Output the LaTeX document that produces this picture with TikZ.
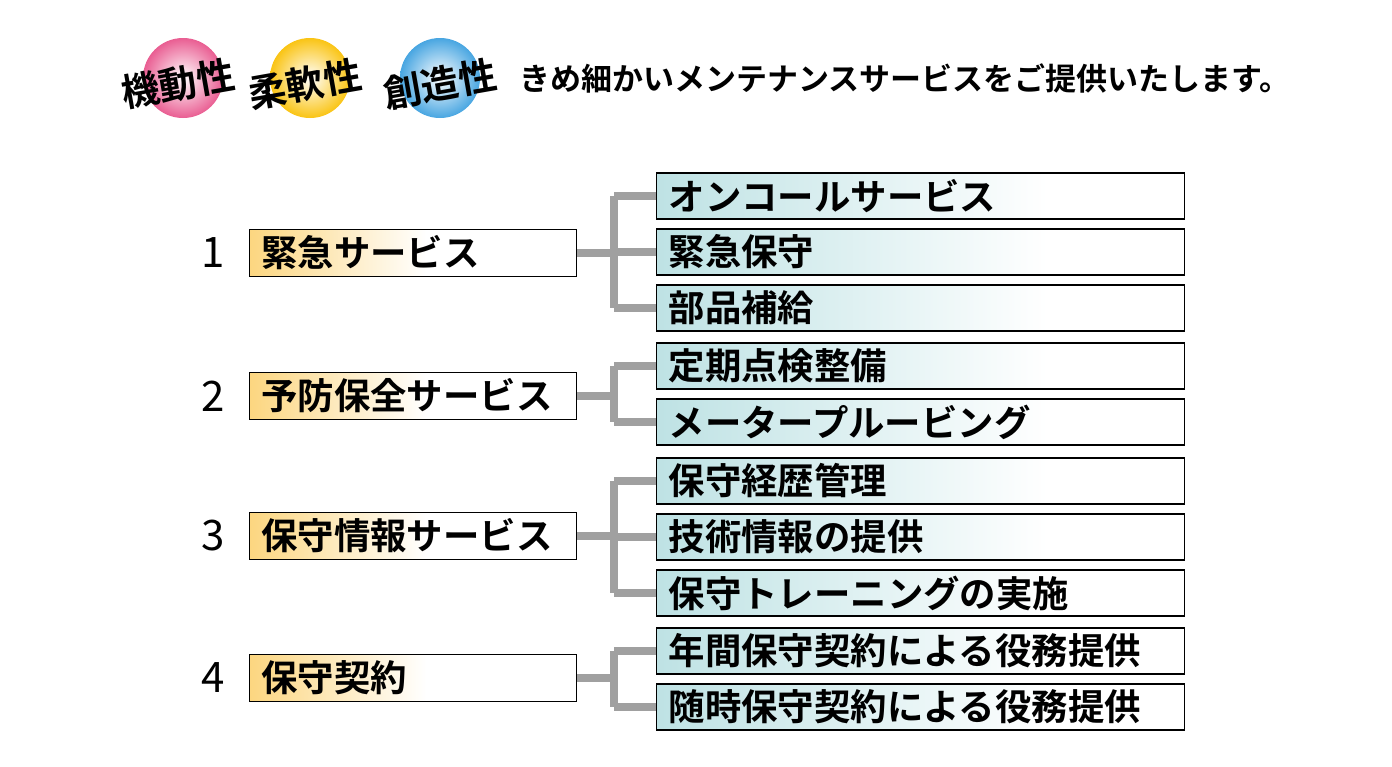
\documentclass[tikz,border=0pt]{standalone}
\usepackage{fontspec}
\setmainfont{Noto Sans CJK JP}[BoldFont={Noto Sans CJK JP Bold}]
\usetikzlibrary{positioning}
\definecolor{ochre}{RGB}{252,214,128}
\definecolor{teal}{RGB}{190,226,228}
\definecolor{pinkball}{RGB}{226,40,110}
\definecolor{yellowball}{RGB}{250,196,20}
\definecolor{blueball}{RGB}{40,150,220}
\definecolor{linegray}{RGB}{160,160,160}
\pgfdeclarehorizontalshading{ochreshade}{100bp}{color(0bp)=(ochre); color(25bp)=(ochre); color(52bp)=(white); color(100bp)=(white)}
\pgfdeclarehorizontalshading{tealshade}{100bp}{color(0bp)=(teal); color(25bp)=(teal); color(62bp)=(white); color(100bp)=(white)}
\tikzset{
  mainbox/.style={draw, line width=0.7pt, shading=ochreshade, minimum width=163.5pt, minimum height=23.5pt,
    anchor=west, text width=152pt, inner sep=0pt, align=left, font=\bfseries\fontsize{18.2}{19}\selectfont},
  subbox/.style={draw, line width=0.7pt, shading=tealshade, minimum width=264pt, minimum height=23pt,
    anchor=west, text width=252pt, inner sep=0pt, align=left, font=\bfseries\fontsize{18.2}{19}\selectfont},
  num/.style={font=\fontsize{21}{21}\selectfont},
  link/.style={draw=linegray, line width=4pt},
  ball/.style={circle, minimum size=40pt, shading=radial, inner color=white, middle color=white},
  balltext/.style={rotate=10, font=\bfseries\fontsize{19}{19}\selectfont}
}
\begin{document}
\begin{tikzpicture}[x=0.5pt, y=-0.5pt]
  \useasboundingbox (0,0) rectangle (1392,766);
  % header
  \node[ball, outer color=pinkball!75] (b1) at (183,78) {};
  \node[ball, outer color=yellowball] (b2) at (310,78) {};
  \node[ball, outer color=blueball!85] (b3) at (440,78) {};
  \node[balltext] (t1) at (178,84) {機動性};
  \node[balltext] (t2) at (305,84) {柔軟性};
  \node[balltext] (t3) at (440,84) {創造性};
  \node[anchor=west, font=\bfseries\fontsize{15.5}{16}\selectfont] (head) at (512,78) {きめ細かいメンテナンスサービスをご提供いたします。};

  % main services
  \node[mainbox] (m1) at (249,253) {緊急サービス};
  \node[mainbox] (m2) at (249,396) {予防保全サービス};
  \node[mainbox] (m3) at (249,536) {保守情報サービス};
  \node[mainbox] (m4) at (249,678) {保守契約};
  \foreach \i/\y in {1/253,2/396,3/536,4/678}
    \node[num] (n\i) at (213,\y) {\i};

  % sub services
  \node[subbox] (s1) at (656,196) {オンコールサービス};
  \node[subbox] (s2) at (656,252) {緊急保守};
  \node[subbox] (s3) at (656,308) {部品補給};
  \node[subbox] (s4) at (656,366) {定期点検整備};
  \node[subbox] (s5) at (656,422) {メータープルービング};
  \node[subbox] (s6) at (656,481) {保守経歴管理};
  \node[subbox] (s7) at (656,537) {技術情報の提供};
  \node[subbox] (s8) at (656,593) {保守トレーニングの実施};
  \node[subbox] (s9) at (656,651) {年間保守契約による役務提供};
  \node[subbox] (s10) at (656,707) {随時保守契約による役務提供};

  % connectors
  \foreach \m/\subs in {1/{1,2,3},2/{4,5},3/{6,7,8},4/{9,10}}{
    \draw[link] (m\m.east) -- ++(37,0) coordinate (j\m);
    \foreach \s in \subs
      \draw[link] (j\m |- s\s.west) -- (s\s.west);
  }
  \draw[link] (j1 |- s1.west) -- (j1 |- s3.west);
  \draw[link] (j2 |- s4.west) -- (j2 |- s5.west);
  \draw[link] (j3 |- s6.west) -- (j3 |- s8.west);
  \draw[link] (j4 |- s9.west) -- (j4 |- s10.west);
\end{tikzpicture}
\end{document}
